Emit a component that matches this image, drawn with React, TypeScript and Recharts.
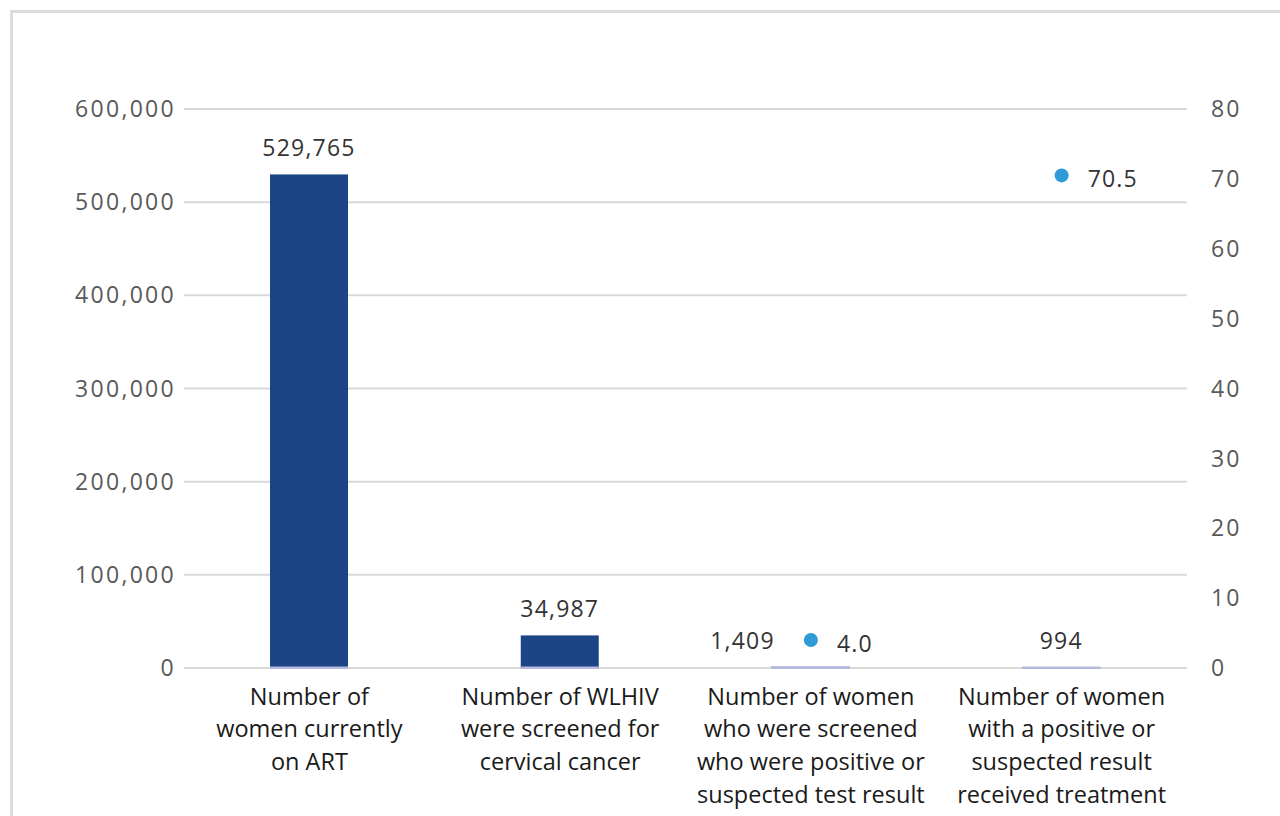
import React from "react";
import { ComposedChart, Bar, Line, XAxis, YAxis, CartesianGrid, LabelList } from "recharts";

const categories = [
  "Number of women currently on ART",
  "Number of WLHIV were screened for cervical cancer",
  "Number of women who were screened who were positive or suspected test result",
  "Number of women with a positive or suspected result received treatment",
];
const categoryLines = [
  ["Number of", "women currently", "on ART"],
  ["Number of WLHIV", "were screened for", "cervical cancer"],
  ["Number of women", "who were screened", "who were positive or", "suspected test result"],
  ["Number of women", "with a positive or", "suspected result", "received treatment"],
];
const counts = [529765, 34987, 1409, 994];
const percents: (number | null)[] = [null, null, 4.0, 70.5];
const leftTicks = [0, 100000, 200000, 300000, 400000, 500000, 600000];
const rightTicks = [0, 10, 20, 30, 40, 50, 60, 70, 80];

const data = categories.map((c, i) => ({ name: c, count: counts[i], pct: percents[i] }));

const FONT = "'Open Sans', Lato, sans-serif";
const BAR_COLOR = "#1b4586";
const BAR_EDGE = "#b7bade";
const DOT_COLOR = "#2e9ad6";
const LABEL_DX = [0, 0, -68, 0];

const fmtInt = (v: number) => v.toLocaleString("en-US");

const BarShape = (props: any) => {
  const { x, y, width, height } = props;
  const base = y + height;
  return (
    <g>
      <rect x={x} y={y} width={width} height={height} fill={BAR_COLOR} />
      <rect x={x} y={base - 1.5} width={width} height={2.5} fill={BAR_EDGE} />
    </g>
  );
};

const BarLabel = (props: any) => {
  const { x, y, width, value, index } = props;
  return (
    <text
      x={x + width / 2 + (LABEL_DX[index] || 0)}
      y={y - 27}
      textAnchor="middle"
      dominantBaseline="central"
      fontFamily={FONT}
      fontSize={23}
      fill="#333333"
      letterSpacing={1.2}
    >
      {fmtInt(value)}
    </text>
  );
};

const DotShape = (props: any) => {
  const { cx, cy, value, index } = props;
  if (value == null || cy == null || isNaN(cy)) return <g key={`d${index}`} />;
  return <circle key={`d${index}`} cx={cx} cy={cy} r={7} fill={DOT_COLOR} />;
};

const DotLabel = (props: any) => {
  const { x, y, value } = props;
  if (value == null) return null;
  return (
    <text
      x={x + 26}
      y={y + 3}
      textAnchor="start"
      dominantBaseline="central"
      fontFamily={FONT}
      fontSize={23}
      fill="#333333"
      letterSpacing={1.2}
    >
      {Number(value).toFixed(1)}
    </text>
  );
};

const CategoryTick = (props: any) => {
  const { x, y, payload } = props;
  const idx = categories.indexOf(payload.value);
  const lines = categoryLines[idx] || [payload.value];
  return (
    <text
      x={x}
      y={y}
      textAnchor="middle"
      fontFamily={FONT}
      fontSize={23.5}
      fill="#1a1a1a"
    >
      {lines.map((l, i) => (
        <tspan key={i} x={x} dy={i === 0 ? 28.5 : 32.7}>
          {l}
        </tspan>
      ))}
    </text>
  );
};

export default function App() {
  return (
    <div
      style={{
        position: "absolute",
        left: 0,
        top: 0,
        width: 1280,
        height: 816,
        overflow: "hidden",
        background: "#ffffff",
      }}
    >
      <div
        style={{
          position: "absolute",
          left: 10,
          top: 10,
          width: 1300,
          height: 840,
          border: "3px solid #dcdcdc",
          boxSizing: "border-box",
        }}
      />
      <div style={{ position: "absolute", left: 0, top: 0 }}>
        <ComposedChart
          width={1280}
          height={816}
          data={data}
          margin={{ top: 109, right: 13, left: 84, bottom: 8 }}
        >
          <CartesianGrid
            yAxisId="left"
            vertical={false}
            stroke="#d9d9d9"
            strokeWidth={2}
          />
          <XAxis
            dataKey="name"
            axisLine={false}
            tickLine={false}
            height={140}
            interval={0}
            tick={<CategoryTick />}
          />
          <YAxis
            yAxisId="left"
            orientation="left"
            width={100}
            domain={[0, 600000]}
            ticks={leftTicks}
            axisLine={false}
            tickLine={false}
            tickFormatter={fmtInt}
            tick={{ fontFamily: FONT, fontSize: 23, fill: "#595959", letterSpacing: 2.3 }}
          />
          <YAxis
            yAxisId="right"
            orientation="right"
            width={80}
            domain={[0, 80]}
            ticks={rightTicks}
            axisLine={false}
            tickLine={false}
            tickMargin={18}
            tick={{ fontFamily: FONT, fontSize: 23, fill: "#595959", letterSpacing: 2 }}
          />
          <Bar
            yAxisId="left"
            dataKey="count"
            barSize={78}
            shape={<BarShape />}
            isAnimationActive={false}
          >
            <LabelList dataKey="count" content={<BarLabel />} />
          </Bar>
          <Line
            yAxisId="right"
            dataKey="pct"
            stroke="none"
            connectNulls={false}
            dot={<DotShape />}
            activeDot={false}
            isAnimationActive={false}
          >
            <LabelList dataKey="pct" content={<DotLabel />} />
          </Line>
        </ComposedChart>
      </div>
    </div>
  );
}
